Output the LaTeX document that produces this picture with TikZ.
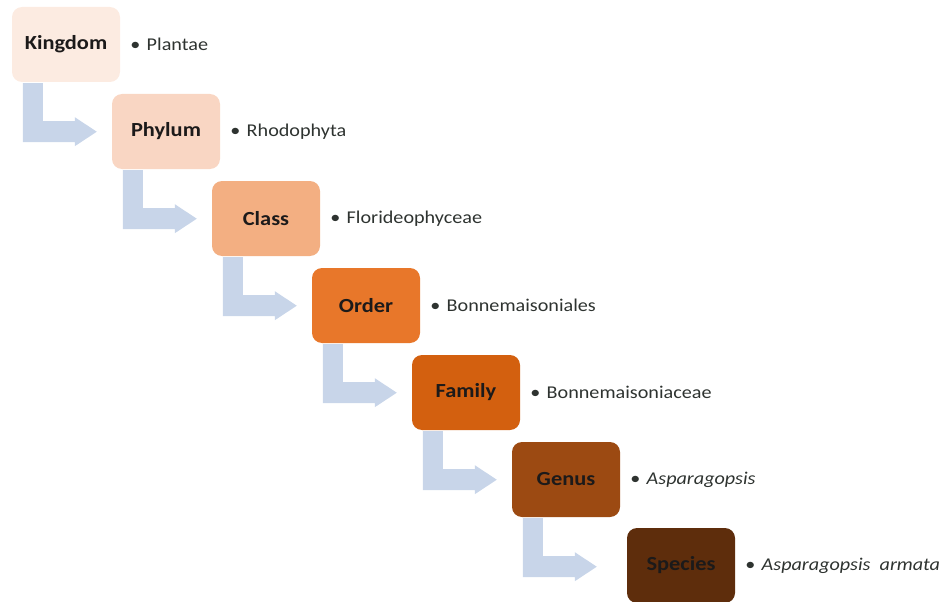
\documentclass[tikz,border=0pt]{standalone}
\usepackage{fontspec}
\setmainfont{Carlito}[FakeStretch=1.12]
\usetikzlibrary{calc}
\definecolor{cA}{HTML}{FCEBE1}
\definecolor{cB}{HTML}{F9D6C3}
\definecolor{cC}{HTML}{F3AF82}
\definecolor{cD}{HTML}{E8772A}
\definecolor{cE}{HTML}{D3600F}
\definecolor{cF}{HTML}{9C4A12}
\definecolor{cG}{HTML}{5E2D0C}
\definecolor{arrowc}{HTML}{C8D5E9}
\definecolor{boxtext}{HTML}{1C1A1A}
\definecolor{labtext}{HTML}{2E3330}
\tikzset{
  rankbox/.style={rounded corners=10pt, minimum width=108pt, minimum height=75pt, inner sep=0pt,
    font=\fontsize{20}{22}\selectfont\bfseries, text=boxtext},
  lab/.style={anchor=west, inner sep=0pt, font=\fontsize{18}{20}\selectfont, text=labtext},
  bentarrow/.style={fill=arrowc, draw=none}
}
\newcommand{\bentarrowat}[1]{%
  \fill[arrowc] ($(#1.south west)+(11,-1)$) -- ++(20,0) -- ++(0,-38) -- ++(32,0) -- ++(0,4)
    -- ++(22,-14.5) -- ++(-22,-14.5) -- ++(0,4) -- ++(-52,0) -- cycle;}
\begin{document}
\begin{tikzpicture}[x=1pt,y=1pt]
\useasboundingbox (0,0) rectangle (946,-602);
\node[rankbox, fill=cA] (k1) at (66,-44.5) {Kingdom};
\node[rankbox, fill=cB] (k2) at (166,-131.5) {Phylum};
\node[rankbox, fill=cC] (k3) at (266,-218.5) {Class};
\node[rankbox, fill=cD] (k4) at (366,-305.5) {Order};
\node[rankbox, fill=cE] (k5) at (466,-392.5) {Family};
\node[rankbox, fill=cF] (k6) at (566,-479.5) {Genus};
\node[rankbox, fill=cG] (k7) at (681,-565.5) {Species};
\foreach \i in {1,...,6}{\bentarrowat{k\i}}
\node[lab] (l1) at ($(k1.east)+(10,0)$) {\textbullet\hspace{0.35em}Plantae};
\node[lab] (l2) at ($(k2.east)+(10,0)$) {\textbullet\hspace{0.35em}Rhodophyta};
\node[lab] (l3) at ($(k3.east)+(10,0)$) {\textbullet\hspace{0.35em}Florideophyceae};
\node[lab] (l4) at ($(k4.east)+(10,0)$) {\textbullet\hspace{0.35em}Bonnemaisoniales};
\node[lab] (l5) at ($(k5.east)+(10,0)$) {\textbullet\hspace{0.35em}Bonnemaisoniaceae};
\node[lab] (l6) at ($(k6.east)+(10,0)$) {\textbullet\hspace{0.35em}\textit{Asparagopsis}};
\node[lab] (l7) at ($(k7.east)+(10,0)$) {\textbullet\hspace{0.35em}\textit{Asparagopsis\ \ armata}};
\end{tikzpicture}
\end{document}
